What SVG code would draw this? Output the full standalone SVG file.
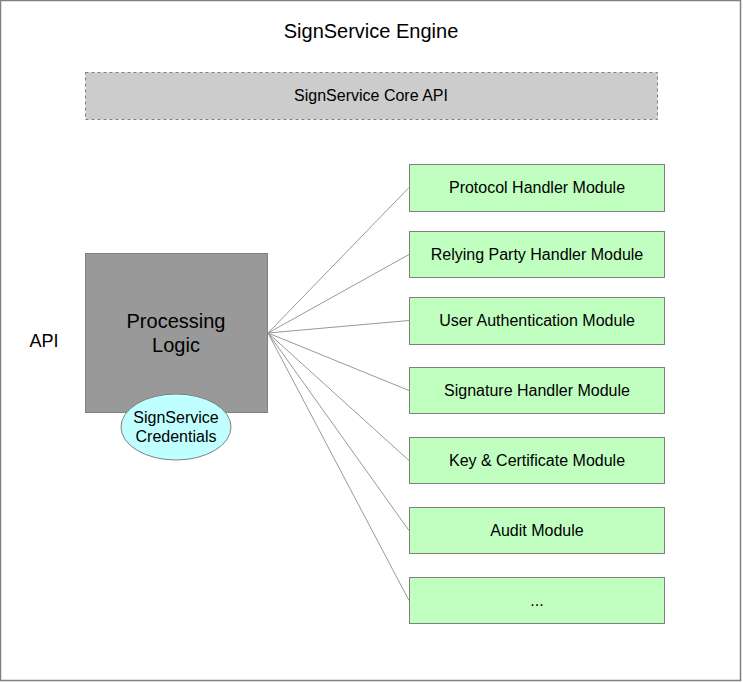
<svg xmlns="http://www.w3.org/2000/svg" width="743" height="682" viewBox="0 0 743 682">
<style>
text{font-family:"Liberation Sans",Arial,Helvetica,sans-serif;fill:#000;text-anchor:middle}
.mod rect{fill:#c0ffc0;stroke:#808080;stroke-width:1}
.mod text{font-size:16px}
.conn line{stroke:#999999;stroke-width:1}
</style>
<rect id="frame" x="0.5" y="0.5" width="740" height="680" fill="#ffffff" stroke="#808080" stroke-width="1.5"/>
<text x="371" y="38" font-size="20">SignService Engine</text>
<g id="core-api">
<rect x="85.5" y="72.5" width="572" height="47" fill="#cccccc" stroke="#808080" stroke-dasharray="3 3"/>
<text x="371" y="101" font-size="16">SignService Core API</text>
</g>
<text id="api" x="44" y="346.5" font-size="18">API</text>
<g class="conn" id="connectors">
<line x1="268" y1="333" x2="409" y2="187.5"/>
<line x1="268" y1="333" x2="409" y2="254.5"/>
<line x1="268" y1="333" x2="409" y2="320.5"/>
<line x1="268" y1="333" x2="409" y2="390.5"/>
<line x1="268" y1="333" x2="409" y2="460.5"/>
<line x1="268" y1="333" x2="409" y2="530.5"/>
<line x1="268" y1="333" x2="409" y2="600.5"/>
</g>
<g id="processing-logic">
<rect x="85.5" y="253.5" width="182" height="159" fill="#999999" stroke="#808080"/>
<text x="176" y="328" font-size="20">Processing</text>
<text x="176" y="352" font-size="20">Logic</text>
</g>
<g id="credentials">
<ellipse cx="176" cy="427" rx="55" ry="33" fill="#c0ffff" stroke="#808080"/>
<text x="176" y="423" font-size="16">SignService</text>
<text x="176" y="441.5" font-size="16">Credentials</text>
</g>
<g class="mod" id="protocol-handler">
<rect x="409.5" y="164.5" width="255" height="47"/>
<text x="537" y="193">Protocol Handler Module</text>
</g>
<g class="mod" id="relying-party-handler">
<rect x="409.5" y="231.5" width="255" height="46"/>
<text x="537" y="260">Relying Party Handler Module</text>
</g>
<g class="mod" id="user-authentication">
<rect x="409.5" y="297.5" width="255" height="47"/>
<text x="537" y="326">User Authentication Module</text>
</g>
<g class="mod" id="signature-handler">
<rect x="409.5" y="367.5" width="255" height="46"/>
<text x="537" y="396">Signature Handler Module</text>
</g>
<g class="mod" id="key-certificate">
<rect x="409.5" y="437.5" width="255" height="46"/>
<text x="537" y="466">Key &amp; Certificate Module</text>
</g>
<g class="mod" id="audit">
<rect x="409.5" y="507.5" width="255" height="46"/>
<text x="537" y="536">Audit Module</text>
</g>
<g class="mod" id="more">
<rect x="409.5" y="577.5" width="255" height="46"/>
<text x="537" y="606">...</text>
</g>
</svg>
